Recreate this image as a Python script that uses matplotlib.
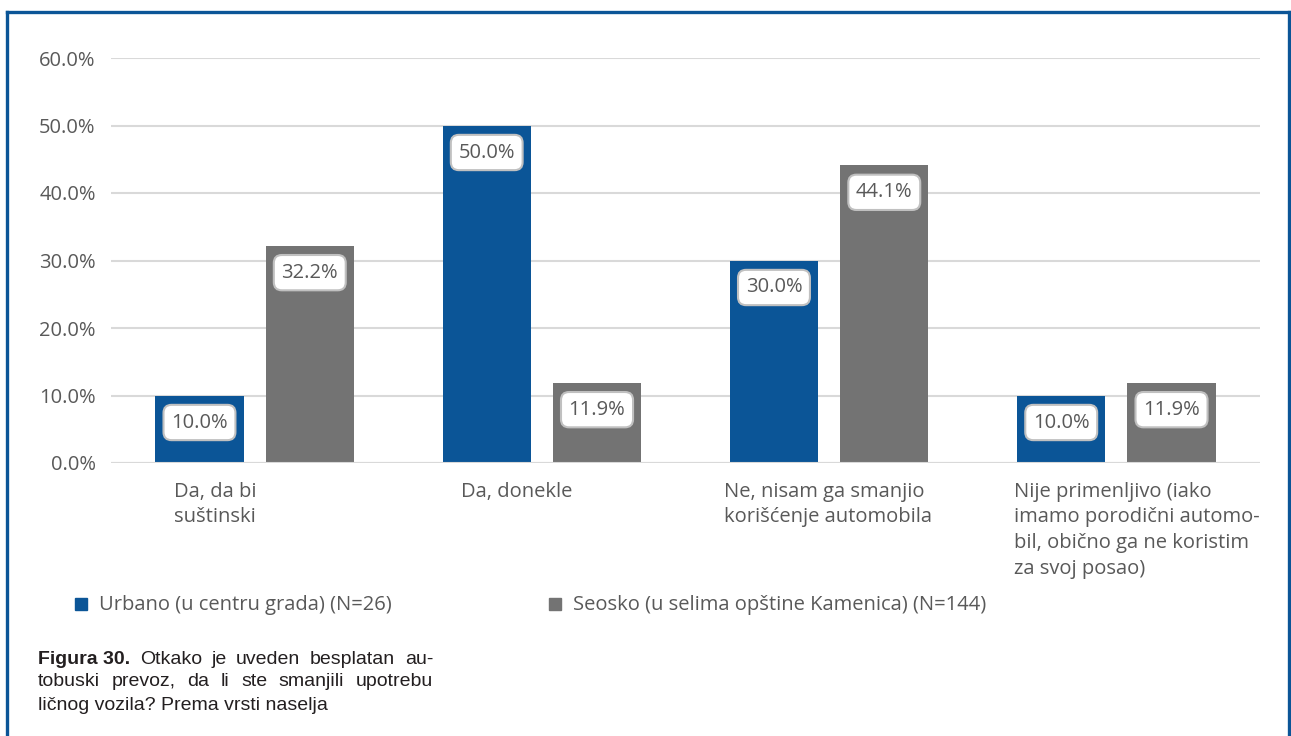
import numpy as np
import matplotlib
matplotlib.use("Agg")
import matplotlib.pyplot as plt
from matplotlib.lines import Line2D
from matplotlib.ticker import FuncFormatter

### Data ###

categories = ["Da, da bi\nsuštinski",
              "Da, donekle",
              "Ne, nisam ga smanjio\nkorišćenje automobila",
              "Nije primenljivo (iako\nimamo porodični automo-\nbil, obično ga ne koristim\nza svoj posao)"]
urbano = [10.0, 50.0, 30.0, 10.0]
seosko = [32.2, 11.9, 44.1, 11.9]
series_names = ["Urbano (u centru grada) (N=26)",
                "Seosko (u selima opštine Kamenica) (N=144)"]
yticks = [0, 10, 20, 30, 40, 50, 60]

caption_lines = [
    [("Figura 30.", "bold"), ("Otkako", "normal"), ("je", "normal"), ("uveden", "normal"),
     ("besplatan", "normal"), ("au-", "normal")],
    [("tobuski", "normal"), ("prevoz,", "normal"), ("da", "normal"), ("li", "normal"),
     ("ste", "normal"), ("smanjili", "normal"), ("upotrebu", "normal")],
    [("ličnog vozila? Prema vrsti naselja", "normal")],
]

### Style ###

BLUE = "#0b5597"
GRAY = "#737373"
TXT = "#595959"
FONT = "Open Sans"
FS = 14.5

plt.rcParams['font.family'] = [FONT, 'DejaVu Sans']

fig = plt.figure(figsize=(12.91, 7.36), dpi=100)
W, H = 1291, 736
ax = fig.add_axes([111 / W, 1 - 463 / H, (1260 - 111) / W, (463 - 58) / H])

x = np.arange(len(categories))
bw = 0.307
off = 0.192
b1 = ax.bar(x - off, urbano, bw, color=BLUE, zorder=3)
b2 = ax.bar(x + off, seosko, bw, color=GRAY, zorder=3)

# data labels in rounded boxes, just below bar tops
for bars, vals in ((b1, urbano), (b2, seosko)):
    for r, v in zip(bars, vals):
        ax.annotate("%.1f%%" % v, (r.get_x() + r.get_width() / 2, v),
                    xytext=(0, -27), textcoords="offset pixels",
                    ha="center", va="center", fontsize=FS, color=TXT, zorder=5,
                    bbox=dict(boxstyle="round,pad=0.38,rounding_size=0.4",
                              fc="white", ec="#c0c0c0", lw=1.5))

ax.set_xlim(-0.5, len(categories) - 0.5)
ax.set_ylim(0, 60)
ax.set_yticks(yticks)
ax.yaxis.set_major_formatter(FuncFormatter(lambda v, p: "%.1f%%" % v))
ax.tick_params(axis="y", length=0, pad=11, labelsize=FS, labelcolor=TXT)
ax.set_xticks([])
ax.grid(axis="y", color="#d9d9d9", lw=1.5, zorder=0)
for s in ax.spines.values():
    s.set_visible(False)
ax.axhline(0, color="#d9d9d9", lw=1.5, zorder=4)

# category labels (left aligned blocks under each group)
label_left = [0.22, 0.22, 0.133, 0.143]
for i, lab in enumerate(categories):
    ax.text(i - 0.5 + label_left[i], -2.75, lab, ha="left", va="top",
            fontsize=FS, color=TXT, linespacing=1.38, clip_on=False)

# legend
for (px, name, col) in ((75, series_names[0], BLUE), (549, series_names[1], GRAY)):
    fig.patches.append(plt.Rectangle((px / W, 1 - 610 / H), 12 / W, 12 / H,
                                     transform=fig.transFigure, color=col))
    fig.text((px + 24) / W, 1 - 605 / H, name, ha="left", va="center",
             fontsize=FS, color=TXT)

# caption, justified for first two lines
fig.canvas.draw()
rend = fig.canvas.get_renderer()
cap_left, cap_right = 38, 433
cap_y = [660, 682, 705]
for li, words in enumerate(caption_lines):
    texts = [fig.text(0, 1 - cap_y[li] / H, w, family=["Liberation Sans", "DejaVu Sans"],
                      fontsize=14, fontweight=wt, color="#231f20", ha="left", va="center")
             for w, wt in words]
    widths = [t.get_window_extent(rend).width for t in texts]
    if len(texts) > 1 and li < len(caption_lines) - 1:
        gap = (cap_right - cap_left - sum(widths)) / (len(texts) - 1)
    else:
        gap = 5
    cx = cap_left
    for t, w in zip(texts, widths):
        t.set_x(cx / W)
        cx += w + gap

# blue frame (left, top, right)
fc = BLUE
fig.lines.append(Line2D([6.5 / W, 6.5 / W], [0, 1 - 11.5 / H], transform=fig.transFigure, color=fc, lw=2.4))
fig.lines.append(Line2D([6.5 / W, 1288.5 / W], [1 - 11.5 / H, 1 - 11.5 / H], transform=fig.transFigure, color=fc, lw=2.4))
fig.lines.append(Line2D([1288.5 / W, 1288.5 / W], [0, 1 - 11.5 / H], transform=fig.transFigure, color=fc, lw=2.4))

fig.savefig("out.png", dpi=100)
